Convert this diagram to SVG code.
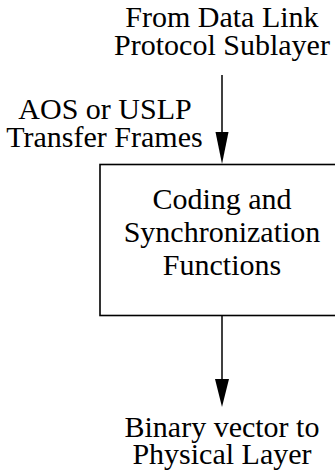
<svg xmlns="http://www.w3.org/2000/svg" width="335" height="475" viewBox="0 0 335 475">
<rect width="335" height="475" fill="#fff"/>
<g id="src">
<text x="125.3" y="27" font-family="Liberation Serif" font-size="30">From Data Link</text>
<text x="114.1" y="55" font-family="Liberation Serif" font-size="30">Protocol Sublayer</text>
</g>
<g id="lbl">
<text x="18.3" y="119" font-family="Liberation Serif" font-size="30">AOS or USLP</text>
<text x="6.3" y="147" font-family="Liberation Serif" font-size="30">Transfer Frames</text>
</g>
<g id="box">
<rect x="100" y="164.5" width="244" height="151" fill="none" stroke="#000" stroke-width="1.6"/>
<text x="152.4" y="209" font-family="Liberation Serif" font-size="30">Coding and</text>
<text x="123.7" y="242" font-family="Liberation Serif" font-size="30">Synchronization</text>
<text x="162.8" y="275" font-family="Liberation Serif" font-size="30">Functions</text>
</g>
<g id="dst">
<text x="124.5" y="437" font-family="Liberation Serif" font-size="30">Binary vector to</text>
<text x="132.4" y="464" font-family="Liberation Serif" font-size="30">Physical Layer</text>
</g>
<g id="connectors" stroke="#000" stroke-width="1.5">
<line x1="222" y1="75" x2="222" y2="133"/>
<path d="M215.5,132 L228.5,132 L222,164 Z" fill="#000" stroke="none"/>
<line x1="222" y1="316" x2="222" y2="380"/>
<path d="M215,379 L229,379 L222,407 Z" fill="#000" stroke="none"/>
</g>
</svg>
